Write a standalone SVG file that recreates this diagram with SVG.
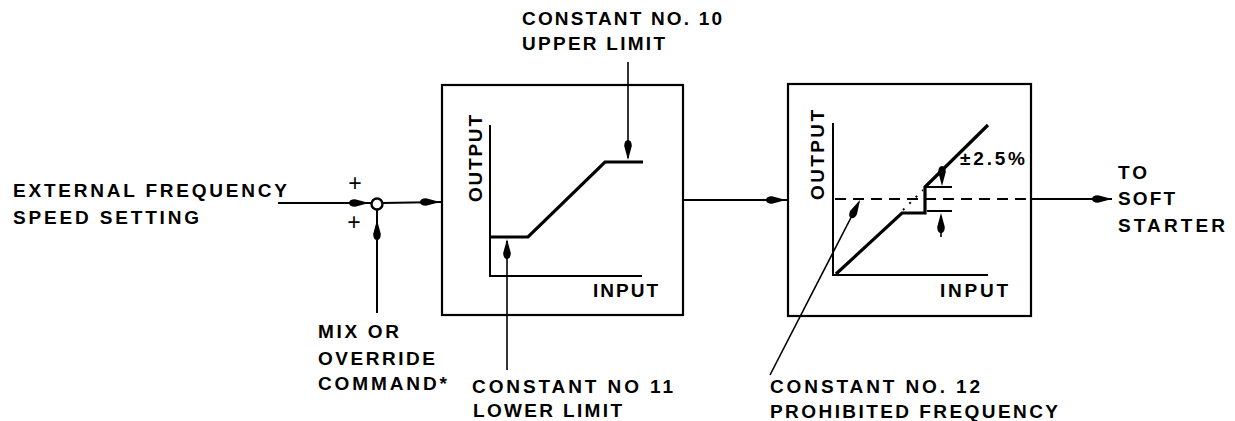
<svg xmlns="http://www.w3.org/2000/svg" xmlns:xlink="http://www.w3.org/1999/xlink" width="1235" height="421" viewBox="0 0 1235 421">
<style>
.t{font-family:"Liberation Sans",Arial,sans-serif;font-size:19px;font-weight:bold;fill:#000}
.ln{stroke:#000;stroke-width:2;fill:none}
.thk{stroke:#000;stroke-width:3.2;fill:none;stroke-linejoin:miter}
.thin{stroke:#000;stroke-width:1.6;fill:none}
.box{stroke:#000;stroke-width:2.2;fill:none}
.dash{stroke:#000;stroke-width:2;fill:none;stroke-dasharray:11 7}
.dot{stroke:#000;stroke-width:2;fill:none;stroke-dasharray:2 7}
</style>
<defs>
<path id="ah" d="M0,0 L-14,-3.8 Q-20,-3.6 -20,0 Q-20,3.6 -14,3.8 Z" fill="#000"/>
</defs>
<rect width="1235" height="421" fill="#fff"/>

<g id="connectors">
<line class="ln" x1="278" y1="203" x2="371.5" y2="203"/>
<use xlink:href="#ah" transform="translate(369,203)"/>
<line class="ln" x1="382.5" y1="203" x2="442" y2="202"/>
<use xlink:href="#ah" transform="translate(440,202)"/>
<line class="ln" x1="377" y1="209.5" x2="377" y2="313"/>
<use xlink:href="#ah" transform="translate(377,220) rotate(-90)"/>
<line class="ln" x1="683" y1="200" x2="788" y2="200"/>
<use xlink:href="#ah" transform="translate(786,200)"/>
<line class="ln" x1="1031" y1="199" x2="1112" y2="199"/>
<use xlink:href="#ah" transform="translate(1112,199)"/>
<line class="thin" x1="628" y1="62" x2="628" y2="158"/>
<use xlink:href="#ah" transform="translate(628,160) rotate(90)"/>
<line class="thin" x1="507" y1="370" x2="507" y2="241"/>
<use xlink:href="#ah" transform="translate(507,239) rotate(-90)"/>
<line class="thin" x1="770" y1="375" x2="859" y2="202"/>
<use xlink:href="#ah" transform="translate(860,200) rotate(-62.8)"/>
</g>

<g id="summing">
<circle cx="377" cy="204" r="5.5" fill="#fff" stroke="#000" stroke-width="2.4"/>
<text class="t" x="355" y="191" text-anchor="middle" style="font-weight:normal;font-size:23px">+</text>
<text class="t" x="354" y="230" text-anchor="middle" style="font-weight:normal;font-size:23px">+</text>
</g>

<g id="input-label">
<text class="t" x="13" y="197" textLength="274" lengthAdjust="spacing">EXTERNAL FREQUENCY</text>
<text class="t" x="13" y="224" textLength="186" lengthAdjust="spacing">SPEED SETTING</text>
</g>

<g id="mix-label">
<text class="t" x="318" y="338" textLength="81" lengthAdjust="spacing">MIX OR</text>
<text class="t" x="318" y="365" textLength="117" lengthAdjust="spacing">OVERRIDE</text>
<text class="t" x="318" y="390" textLength="129" lengthAdjust="spacing">COMMAND*</text>
</g>

<g id="limiter">
<rect class="box" x="442" y="85" width="241" height="230"/>
<polyline class="ln" points="490,125 490,276 642,276"/>
<polyline class="thk" points="490,237 528,237 605,162 643,162"/>
<text class="t" transform="translate(482,202) rotate(-90)" textLength="87" lengthAdjust="spacing">OUTPUT</text>
<text class="t" x="593" y="297" textLength="65" lengthAdjust="spacing">INPUT</text>
</g>

<g id="upper-label">
<text class="t" x="522" y="25" textLength="200" lengthAdjust="spacing">CONSTANT NO. 10</text>
<text class="t" x="522" y="50" textLength="143" lengthAdjust="spacing">UPPER LIMIT</text>
</g>

<g id="lower-label">
<text class="t" x="472" y="393" textLength="201" lengthAdjust="spacing">CONSTANT NO 11</text>
<text class="t" x="473" y="417" textLength="149" lengthAdjust="spacing">LOWER LIMIT</text>
</g>

<g id="prohibit">
<rect class="box" x="788" y="84" width="243" height="232"/>
<polyline class="ln" points="833,123 833,275 988,275"/>
<line class="dash" x1="835" y1="199" x2="1031" y2="199"/>
<polyline class="thk" points="836,274 902,213 925,213 925,187 988,125"/>
<line class="dot" x1="903" y1="210" x2="923" y2="190"/>
<line class="ln" x1="925" y1="187" x2="952" y2="187"/>
<line class="ln" x1="927" y1="211" x2="952" y2="211"/>
<use xlink:href="#ah" transform="translate(942,186) rotate(90)"/>
<line class="thin" x1="941" y1="237" x2="941" y2="216"/>
<use xlink:href="#ah" transform="translate(941,213) rotate(-90)"/>
<text class="t" transform="translate(824,200) rotate(-90)" textLength="90" lengthAdjust="spacing">OUTPUT</text>
<text class="t" x="940" y="297" textLength="68" lengthAdjust="spacing">INPUT</text>
<text class="t" x="960" y="165" textLength="65" lengthAdjust="spacing" style="font-size:19px">±2.5%</text>
</g>

<g id="prohibit-label">
<text class="t" x="770" y="393" textLength="210" lengthAdjust="spacing">CONSTANT NO. 12</text>
<text class="t" x="770" y="418" textLength="288" lengthAdjust="spacing">PROHIBITED FREQUENCY</text>
</g>

<g id="output-label">
<text class="t" x="1118" y="179" textLength="29" lengthAdjust="spacing">TO</text>
<text class="t" x="1118" y="205" textLength="57" lengthAdjust="spacing">SOFT</text>
<text class="t" x="1118" y="232" textLength="107" lengthAdjust="spacing">STARTER</text>
</g>
</svg>
